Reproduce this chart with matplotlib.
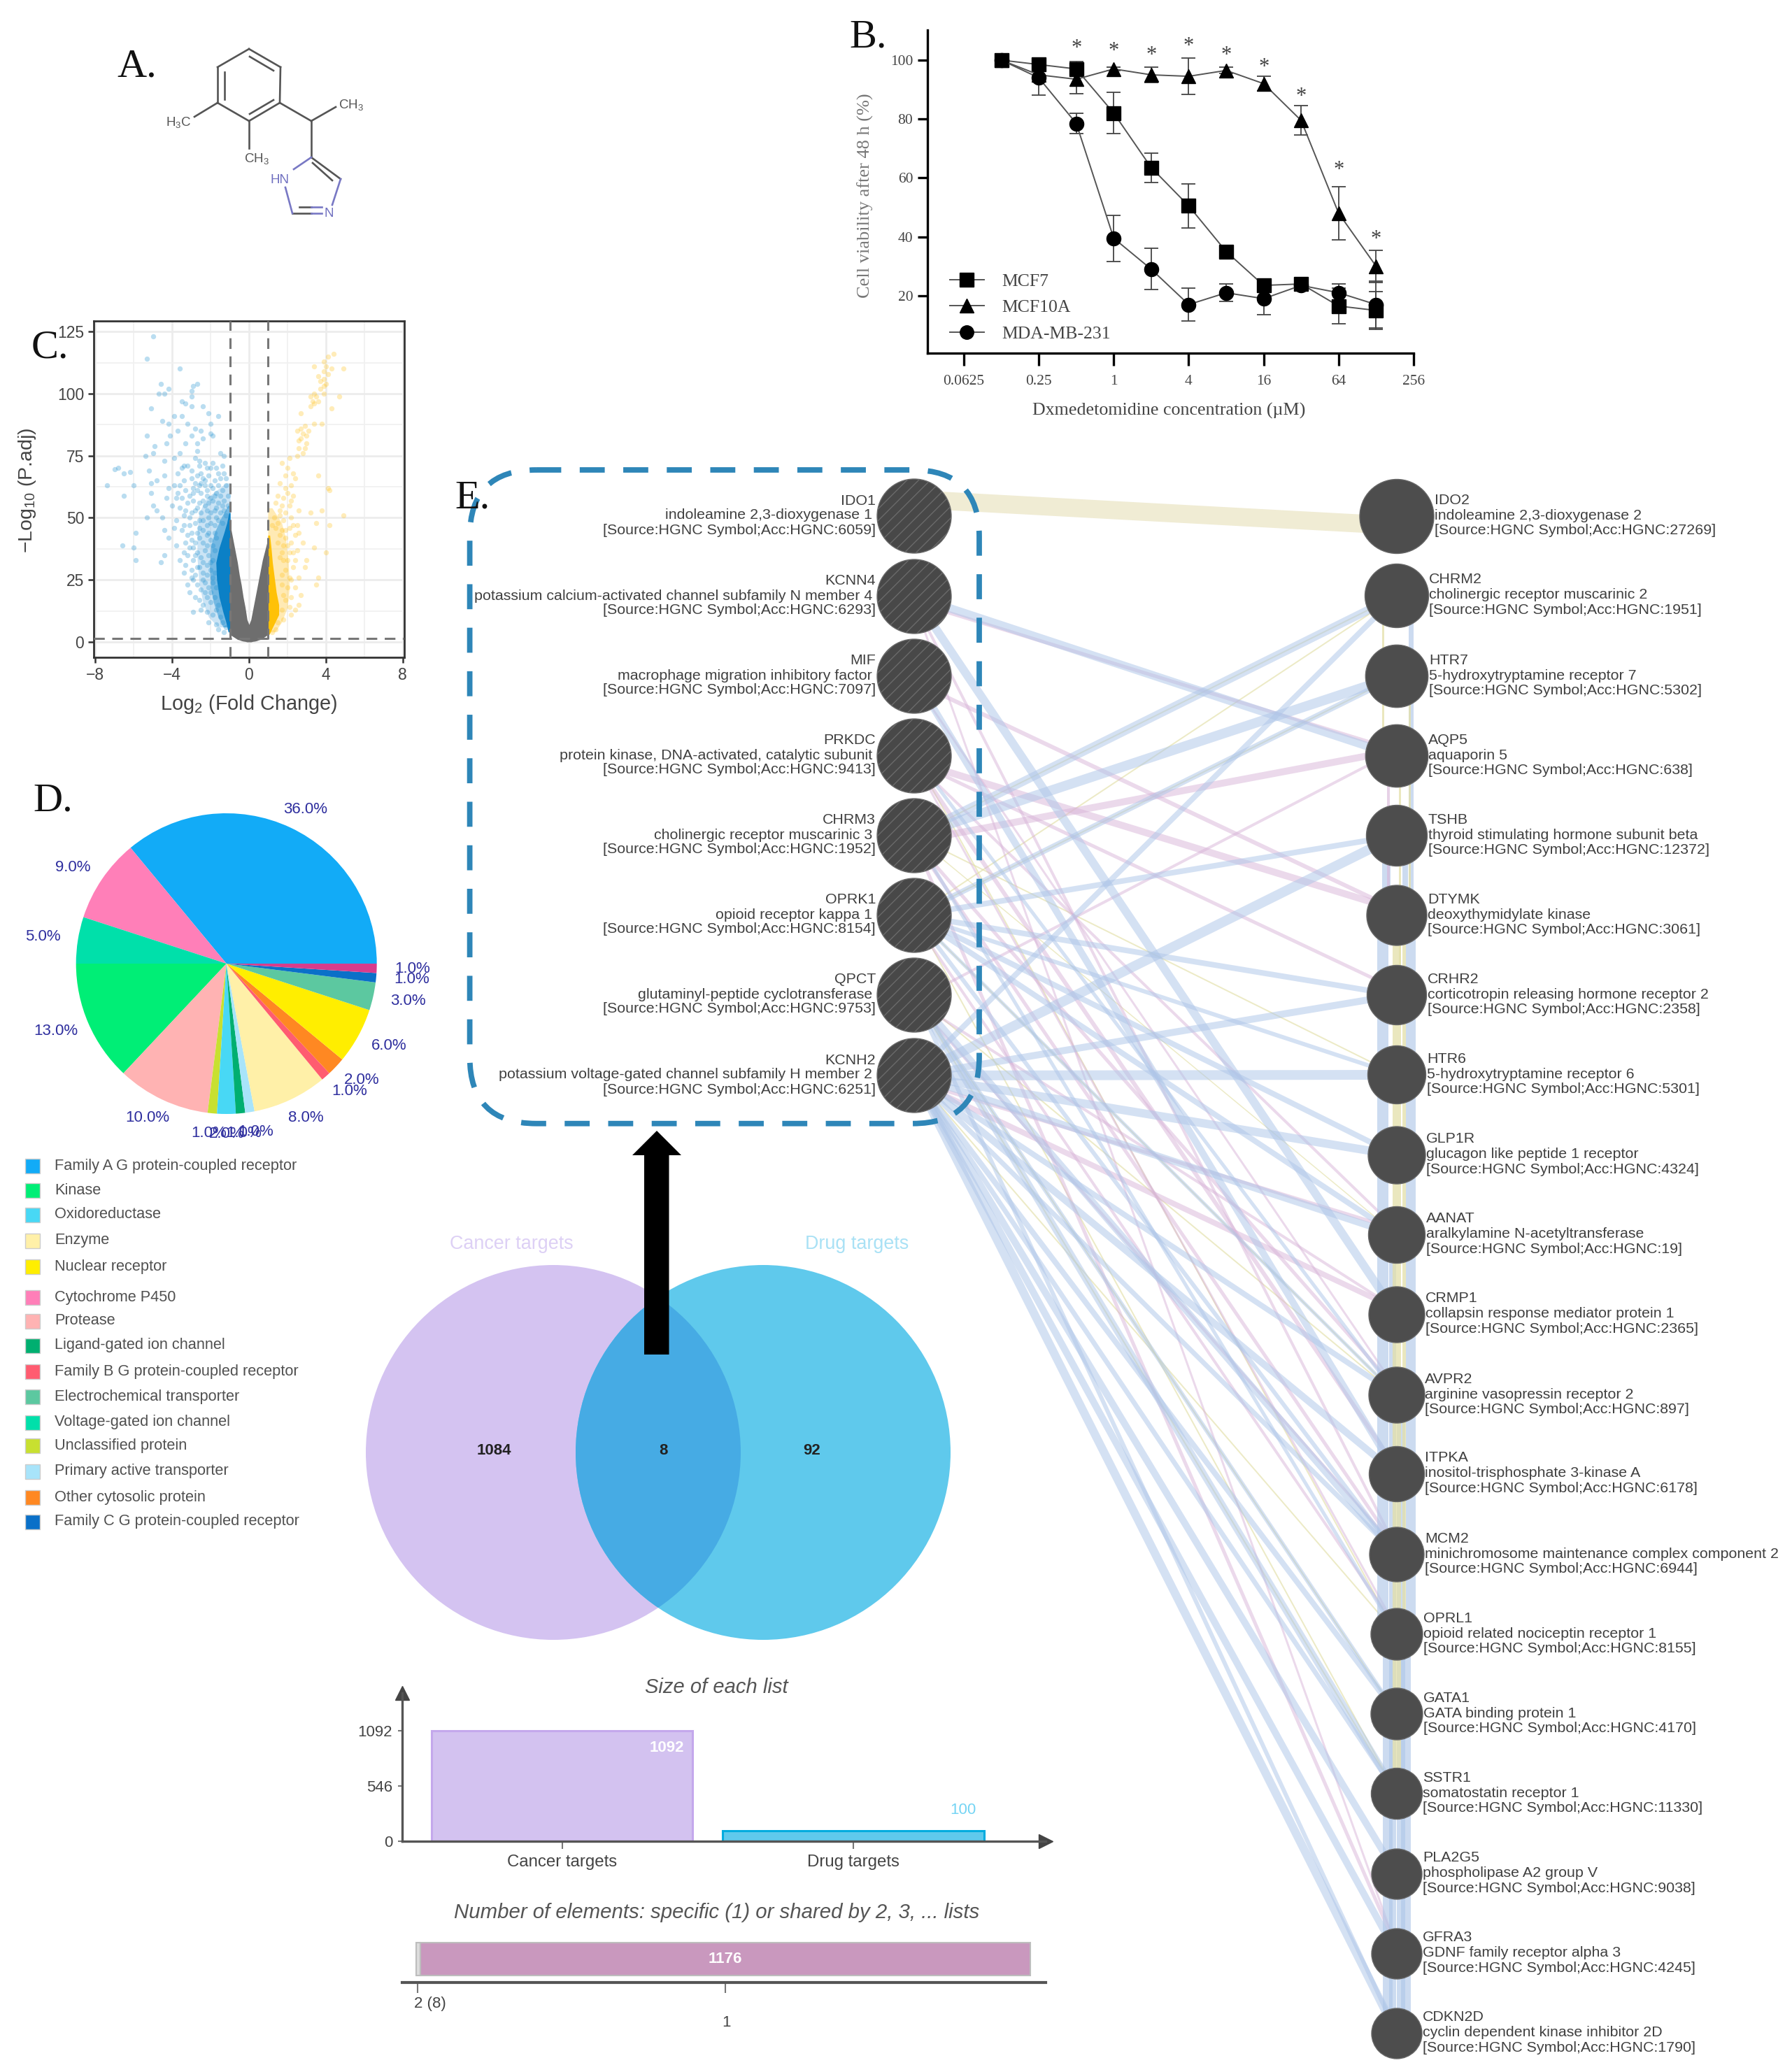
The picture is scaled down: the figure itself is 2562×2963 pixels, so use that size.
import matplotlib
matplotlib.use("Agg")
from matplotlib import pyplot as plt
from matplotlib.lines import Line2D
from matplotlib.patches import Circle, FancyBboxPatch, Polygon, Rectangle

plt.rcParams['font.family'] = ['Liberation Sans', 'DejaVu Sans']
plt.rcParams['mathtext.fontset'] = 'custom'
plt.rcParams['mathtext.rm'] = 'Liberation Sans'
plt.rcParams['mathtext.it'] = 'Liberation Sans:italic'

W, H = 2562, 2963
SERIF = ['Liberation Serif', 'DejaVu Serif']

# B. viability curves
conc = [0.125, 0.25, 0.5, 1, 2, 4, 8, 16, 32, 64, 128]
mcf7 = [100, 98.5, 97, 82, 63.5, 50.5, 35, 23.5, 24, 16.5, 15]
mcf7_err = [0.5, 2, 2.5, 7, 5, 7.5, 0.5, 1, 1, 6, 6.5]
mcf10a = [100, 95, 93.5, 97, 95, 94.5, 96.5, 92, 79.5, 48, 30]
mcf10a_err = [0.5, 1.5, 5, 0.5, 2.5, 6.2, 1, 2.5, 5, 9, 5.5]
mda = [100, 94, 78.5, 39.5, 29, 17, 21, 19, 23.5, 21, 17]
mda_err = [0.5, 6, 3.5, 7.8, 7, 5.5, 3, 5.5, 1, 3, 8]
star_conc = [0.5, 1, 2, 4, 8, 16, 32, 64, 128]
star_y = [104, 103, 101.6, 104.6, 101.6, 97.6, 87.6, 62.6, 39.2]

# C. volcano, solid cores read as envelopes
gray_x = [-1.0, -0.9, -0.8, -0.7, -0.6, -0.5, -0.4, -0.3, -0.2, -0.1, 0, 0.1, 0.2, 0.3, 0.4, 0.5, 0.6, 0.7, 0.8, 0.9, 1.0]
gray_low = [3, 2.5, 2, 1.5, 1, 0.8, 0.5, 0.3, 0.2, 0, 0, 0, 0.2, 0.3, 0.5, 0.8, 1, 1.5, 2, 2.5, 3]
gray_high = [48, 44, 40, 36, 32, 27, 23, 18, 14, 9, 7, 9, 13, 17, 21, 25, 29, 33, 36, 39, 42]
blue_core_y = [4, 8, 12, 18, 25, 32, 38, 44, 48, 52]
blue_core_x = [-1.08, -1.2, -1.35, -1.55, -1.68, -1.72, -1.55, -1.3, -1.15, -1.05]
blue_mid_y = [6, 10, 16, 22, 30, 38, 44, 50, 55]
blue_mid_x = [-1.35, -1.6, -1.85, -2.0, -2.05, -2.0, -1.8, -1.45, -1.1]
blue_pale_y = [6, 10, 16, 24, 34, 44, 52, 58, 64]
blue_pale_x = [-1.6, -2.1, -2.4, -2.6, -2.7, -2.7, -2.6, -2.2, -1.2]
yellow_core_y = [3, 7, 11, 15, 20, 26, 32, 38, 43]
yellow_core_x = [1.05, 1.3, 1.55, 1.55, 1.42, 1.32, 1.22, 1.15, 1.08]
yellow_pale_y = [4, 8, 14, 22, 32, 42, 48, 54]
yellow_pale_x = [1.35, 1.7, 2.0, 2.1, 2.05, 1.9, 1.7, 1.2]

volcano_down = [
    (-5.0, 123), (-5.3, 114), (-3.6, 110), (-4.6, 104), (-4.7, 100), (-4.4, 100), (-4.2, 102), (-3.0, 101), (-2.7, 104),
    (-2.9, 103), (-3.0, 99), (-3.5, 97), (-3.3, 96), (-3.0, 95), (-2.4, 95), (-5.1, 94), (-2.1, 92), (-1.6, 91),
    (-3.9, 91), (-3.5, 91), (-4.5, 89), (-4.2, 88), (-3.2, 88), (-2.0, 88), (-2.8, 86), (-2.5, 85), (-3.7, 85),
    (-2.0, 84), (-1.9, 83), (-5.3, 83), (-3.0, 83), (-4.1, 83), (-2.4, 82), (-3.3, 80), (-2.7, 80), (-4.3, 80),
    (-4.9, 79), (-5.0, 76), (-3.6, 76), (-2.7, 77), (-1.5, 76), (-1.3, 75), (-5.4, 75), (-3.9, 74), (-4.4, 73),
    (-2.8, 74), (-2.6, 73), (-2.3, 72), (-3.4, 71), (-3.2, 71), (-2.0, 70), (-1.7, 70), (-6.8, 70), (-7.0, 69.5),
    (-6.5, 68), (-6.2, 68.5), (-5.2, 69), (-4.4, 67), (-3.7, 68), (-2.5, 68), (-1.3, 68), (-7.4, 63), (-6.0, 63),
    (-5.1, 64), (-4.8, 65), (-4.2, 62), (-3.9, 63), (-3.4, 65), (-3.0, 66), (-2.8, 64), (-2.4, 66), (-2.1, 67),
    (-1.8, 65), (-1.5, 66), (-1.2, 63), (-6.5, 59), (-5.1, 60), (-4.3, 58), (-3.7, 60), (-3.3, 61), (-3.1, 59),
    (-2.7, 61), (-2.5, 60), (-2.3, 63), (-2.2, 59), (-1.9, 62), (-1.7, 60), (-1.4, 61), (-1.1, 59), (-5.0, 55),
    (-4.8, 53), (-4.5, 50), (-5.3, 50), (-4.0, 55), (-3.6, 54), (-3.2, 56), (-2.9, 57), (-2.6, 56), (-2.4, 57),
    (-2.1, 56), (-1.9, 57), (-1.6, 56), (-1.3, 57), (-1.1, 55), (-3.8, 49), (-3.4, 51), (-3.0, 52), (-2.8, 53),
    (-2.5, 52), (-2.2, 53), (-2.0, 52), (-1.8, 53), (-1.5, 52), (-1.3, 53), (-5.9, 44), (-4.4, 45), (-4.2, 42),
    (-3.9, 46), (-3.5, 45), (-3.1, 47), (-2.8, 48), (-2.6, 46), (-2.4, 49), (-2.2, 47), (-2.0, 48), (-1.8, 47),
    (-1.6, 49), (-1.4, 48), (-6.6, 39), (-6.0, 38), (-4.4, 35), (-3.8, 39), (-3.3, 40), (-3.0, 41), (-2.9, 38),
    (-2.6, 42), (-2.4, 40), (-2.2, 43), (-2.0, 41), (-1.9, 39), (-1.7, 42), (-5.9, 33), (-4.6, 32), (-3.6, 33),
    (-3.2, 35), (-2.9, 33), (-2.7, 36), (-2.5, 34), (-2.3, 37), (-2.1, 35), (-1.9, 33), (-3.4, 28), (-3.0, 29),
    (-2.8, 27), (-2.6, 30), (-2.4, 28), (-2.2, 31), (-2.0, 29), (-1.8, 28), (-3.2, 23), (-2.7, 23), (-2.5, 21),
    (-2.3, 24), (-2.1, 22), (-1.9, 24), (-1.7, 22), (-3.1, 20), (-2.6, 17), (-2.4, 15), (-2.2, 18), (-2.0, 16),
    (-1.8, 18), (-1.6, 15), (-2.9, 12), (-2.5, 13), (-2.2, 12), (-1.9, 11), (-1.7, 13), (-1.5, 10), (-2.1, 8),
    (-1.7, 7), (-1.4, 8), (-1.6, 5), (-1.3, 4), (-1.2, 6), (-2.6, 71), (-2.2, 70), (-2.7, 67), (-2.3, 65), (-2.0, 63),
    (-2.6, 63), (-1.6, 63), (-2.9, 60), (-2.0, 58), (-1.5, 59), (-2.7, 54), (-2.3, 55), (-1.7, 54), (-3.1, 50),
    (-2.6, 49), (-2.1, 50), (-1.7, 50), (-3.0, 44), (-2.7, 44), (-2.4, 45), (-2.1, 44), (-1.8, 44), (-2.8, 40),
    (-2.2, 39), (-1.8, 37), (-2.8, 35), (-2.4, 32), (-2.0, 32), (-2.7, 30), (-2.2, 27), (-1.9, 26), (-2.9, 25),
    (-2.4, 25), (-2.0, 20), (-2.8, 18), (-2.3, 20), (-3.0, 69), (-1.9, 72), (-1.4, 71), (-2.9, 62), (-3.5, 58),
    (-3.3, 53), (-3.4, 47), (-3.2, 43), (-3.1, 38), (-3.3, 31), (-3.0, 26), (-3.4, 36), (-2.5, 64), (-1.2, 66),
    (-1.6, 68), (-2.2, 61), (-1.8, 59), (-1.4, 55), (-1.2, 51), (-3.6, 63), (-3.5, 70), (-3.8, 58),
]
volcano_up = [
    (4.4, 116), (4.1, 115), (3.9, 113), (3.4, 111), (4.0, 111), (4.3, 110), (3.9, 109), (4.9, 110), (3.6, 107),
    (3.9, 106), (4.0, 104), (3.9, 103), (3.7, 102), (3.9, 100), (3.4, 100), (3.2, 99), (4.7, 99), (3.3, 97),
    (3.4, 96), (3.2, 95), (4.3, 94), (2.7, 92), (3.4, 88), (3.8, 88), (2.7, 86), (2.5, 85), (2.8, 84), (3.0, 83),
    (2.7, 82), (3.0, 80), (2.6, 78), (2.8, 76), (2.5, 75), (2.1, 74), (1.7, 72), (2.0, 70), (2.3, 68), (3.6, 67),
    (2.4, 66), (1.9, 67), (2.2, 63), (1.6, 64), (4.1, 62), (4.2, 61), (2.0, 60), (1.8, 58), (1.5, 59), (2.2, 57),
    (1.7, 55), (1.4, 56), (2.6, 53), (1.9, 52), (1.6, 51), (1.3, 50), (3.2, 52), (3.8, 53), (4.9, 51), (2.2, 50),
    (1.8, 49), (1.5, 48), (1.2, 47), (3.5, 48), (4.2, 47), (2.5, 47), (2.1, 46), (1.7, 45), (1.4, 46), (2.4, 43),
    (1.9, 42), (1.6, 43), (2.8, 40), (2.2, 40), (1.8, 39), (1.5, 40), (3.4, 38), (4.0, 36), (2.5, 37), (2.1, 36),
    (1.7, 36), (3.0, 33), (2.4, 33), (2.0, 33), (1.6, 34), (2.9, 30), (2.3, 30), (1.9, 29), (3.6, 26), (2.6, 26),
    (2.1, 26), (1.7, 27), (3.5, 23), (2.4, 22), (2.0, 22), (1.7, 23), (2.7, 19), (2.2, 18), (1.8, 19), (2.6, 15),
    (2.1, 14), (1.7, 13), (2.2, 11), (1.8, 9), (1.5, 8), (1.4, 5), (1.2, 4), (2.9, 87), (3.1, 85), (2.6, 81), (2.9, 78),
    (3.6, 97), (3.5, 99), (4.1, 108), (3.7, 105), (2.3, 59), (1.9, 62), (2.1, 55), (1.6, 53), (2.3, 47), (1.9, 45),
    (2.6, 44), (2.0, 39), (2.3, 36), (1.8, 33), (2.2, 25), (1.9, 17), (2.4, 13),
]

# D. pie
pie_values = [36, 9, 5, 13, 10, 1, 2, 1, 1, 8, 1, 2, 6, 3, 1, 1]
pie_colors = ['#12ABF7', '#FF7FB8', '#00E0AA', '#00EE76', '#FFB3B3', '#C8E030', '#48D8F5', '#00AF70',
              '#A8E4FA', '#FFF0A8', '#FF5C70', '#FF8822', '#FFEE00', '#5CC8A0', '#0A70C8', '#D83C8C']
legend_names = ['Family A G protein-coupled receptor', 'Kinase', 'Oxidoreductase', 'Enzyme', 'Nuclear receptor',
                'Cytochrome P450', 'Protease', 'Ligand-gated ion channel', 'Family B G protein-coupled receptor',
                'Electrochemical transporter', 'Voltage-gated ion channel', 'Unclassified protein',
                'Primary active transporter', 'Other cytosolic protein', 'Family C G protein-coupled receptor']
legend_colors = ['#12ABF7', '#00EE76', '#48D8F5', '#FFF0A8', '#FFEE00', '#FF7FB8', '#FFB3B3', '#00AF70',
                 '#FF5C70', '#5CC8A0', '#00E0AA', '#C8E030', '#A8E4FA', '#FF8822', '#0A70C8']
legend_rows = [1667, 1702, 1737, 1774, 1811, 1855, 1889, 1924, 1961, 1997, 2034, 2067, 2104, 2141, 2176]

# E. network
left_genes = ['IDO1', 'KCNN4', 'MIF', 'PRKDC', 'CHRM3', 'OPRK1', 'QPCT', 'KCNH2']
left_desc = ['indoleamine 2,3-dioxygenase 1', 'potassium calcium-activated channel subfamily N member 4',
             'macrophage migration inhibitory factor', 'protein kinase, DNA-activated, catalytic subunit',
             'cholinergic receptor muscarinic 3', 'opioid receptor kappa 1', 'glutaminyl-peptide cyclotransferase',
             'potassium voltage-gated channel subfamily H member 2']
left_acc = ['6059', '6293', '7097', '9413', '1952', '8154', '9753', '6251']
right_genes = ['IDO2', 'CHRM2', 'HTR7', 'AQP5', 'TSHB', 'DTYMK', 'CRHR2', 'HTR6', 'GLP1R', 'AANAT', 'CRMP1', 'AVPR2',
               'ITPKA', 'MCM2', 'OPRL1', 'GATA1', 'SSTR1', 'PLA2G5', 'GFRA3', 'CDKN2D']
right_desc = ['indoleamine 2,3-dioxygenase 2', 'cholinergic receptor muscarinic 2', '5-hydroxytryptamine receptor 7',
              'aquaporin 5', 'thyroid stimulating hormone subunit beta', 'deoxythymidylate kinase',
              'corticotropin releasing hormone receptor 2', '5-hydroxytryptamine receptor 6',
              'glucagon like peptide 1 receptor', 'aralkylamine N-acetyltransferase',
              'collapsin response mediator protein 1', 'arginine vasopressin receptor 2',
              'inositol-trisphosphate 3-kinase A', 'minichromosome maintenance complex component 2',
              'opioid related nociceptin receptor 1', 'GATA binding protein 1', 'somatostatin receptor 1',
              'phospholipase A2 group V', 'GDNF family receptor alpha 3', 'cyclin dependent kinase inhibitor 2D']
right_acc = ['27269', '1951', '5302', '638', '12372', '3061', '2358', '5301', '4324', '19', '2365', '897', '6178',
             '6944', '8155', '4170', '11330', '9038', '4245', '1790']
right_radius = [53, 45.5, 44.7, 44.7, 43.5, 43, 42.5, 41.5, 41, 40.5, 40, 40, 39.5, 39, 37, 37, 36.5, 36, 36, 36]
right_text_x = [2051, 2043, 2043, 2042, 2042, 2041, 2041, 2040, 2039, 2039, 2038, 2037, 2037, 2037, 2035, 2035,
                2034, 2034, 2034, 2034]
left_y = [738, 853, 967, 1081, 1195, 1309, 1423, 1538]
right_y = [738.5, 852, 967, 1081, 1195, 1309, 1423, 1537, 1652, 1766, 1880, 1995, 2108, 2223, 2337, 2451, 2565,
           2680, 2794, 2908]

# left node, right node, width in px
blue_edges = [(1, 3, 12), (4, 1, 12), (7, 1, 8), (4, 2, 14), (5, 2, 8), (5, 4, 8), (7, 4, 14), (5, 6, 8), (7, 6, 10),
              (7, 7, 14), (5, 7, 6), (7, 8, 12), (5, 8, 8), (7, 9, 10), (5, 9, 8), (1, 10, 12), (7, 11, 8), (7, 12, 10),
              (6, 13, 10), (7, 15, 8), (6, 16, 10), (7, 17, 10), (7, 18, 10), (7, 19, 12), (2, 12, 10), (6, 15, 6),
              (5, 13, 6), (4, 14, 5), (7, 13, 7), (7, 16, 7), (6, 19, 6), (5, 11, 5), (3, 11, 5)]
pink_edges = [(1, 3, 5), (4, 3, 10), (6, 3, 4), (3, 5, 10), (2, 5, 6), (3, 6, 5), (7, 9, 5), (7, 10, 8), (3, 12, 6),
              (1, 13, 4), (4, 18, 5), (1, 18, 3), (2, 11, 3), (3, 9, 4), (4, 11, 5), (6, 10, 4), (6, 13, 4), (4, 13, 5),
              (5, 14, 4), (3, 14, 3)]
yellow_edges = [(4, 1, 2), (5, 1, 2), (5, 2, 2), (4, 7, 2), (7, 14, 2), (5, 16, 2), (6, 16, 2), (3, 14, 2), (5, 11, 2),
                (6, 11, 2), (4, 9, 1.5), (6, 15, 2)]
# vertical band down the right column: first node, last node, x offset, width, colour name
band_edges = [(4, 5, -15, 12, 'blue'), (4, 5, 12, 8, 'blue'), (5, 14, -20, 16, 'blue'), (5, 14, 20, 14, 'blue'),
              (14, 19, -13, 14, 'blue'), (14, 19, 13, 14, 'blue'), (9, 19, -6, 10, 'blue'), (11, 19, 6, 12, 'blue'),
              (5, 16, 0, 12, 'yellow'), (5, 14, 10, 5, 'yellow'), (1, 5, 20, 7, 'blue'), (1, 3, -20, 3, 'yellow'),
              (2, 5, 18, 3, 'yellow'), (3, 5, -12, 4, 'pink'), (3, 6, 4, 3, 'yellow')]

# bars under the venn
list_names = ['Cancer targets', 'Drug targets']
list_sizes = [1092, 100]
list_colors = ['#D3C2F0', '#5FC9EC']
list_edges = ['#C4A8EC', '#00ACDF']
shared_sizes = [8, 1176]
venn_counts = [1084, 8, 92]

# molecule drawing, in pixels of the figure
mol_bonds = [((356, 70), (401, 96)), ((401, 96), (400, 147)), ((400, 147), (356, 173)), ((356, 173), (311, 147)),
             ((311, 147), (311, 96)), ((311, 96), (356, 70)), ((357, 81), (391, 101)), ((321, 103), (321, 142)),
             ((391, 143), (357, 163)), ((311, 147), (278, 167)), ((356, 173), (356, 212)), ((400, 147), (445, 173)),
             ((445, 173), (480, 153)), ((445, 173), (445, 225)), ((445, 225), (487, 256)), ((447, 233), (475, 258)),
             ((418, 305), (445, 305)), ((428, 296), (445, 296))]
mol_blue_bonds = [((445, 225), (420, 242)), ((408, 268), (418, 305)), ((487, 256), (475, 293)), ((445, 305), (460, 305)),
                  ((445, 296), (460, 296))]

fig = plt.figure(figsize=(W / 100, H / 100), dpi=100, facecolor='white')


def px_axes(left, top, right, bottom, **kw):
    return fig.add_axes([left / W, 1 - bottom / H, (right - left) / W, (bottom - top) / H], **kw)


# B
ax = px_axes(1326, 43, 2021, 505)
ax.set_xscale('log', base=2)
ax.set_xlim(2 ** -4.97, 2 ** 8)
ax.set_ylim(0.5, 110.2)
for vals, errs, mk, ms in [(mcf7, mcf7_err, 's', 14), (mcf10a, mcf10a_err, '^', 15), (mda, mda_err, 'o', 14.5)]:
    ax.errorbar(conc, vals, yerr=errs, fmt='-' + mk, color='#555555', mfc='black', mec='black', ms=ms, lw=1.4,
                ecolor='#444444', elinewidth=1.3, capsize=7, capthick=1.3)
for x, y in zip(star_conc, star_y):
    ax.text(x, y, '*', ha='center', va='center', fontsize=22, color='#444444', family=SERIF)
ax.spines['top'].set_visible(False)
ax.spines['right'].set_visible(False)
ax.spines['left'].set_linewidth(2.4)
ax.spines['bottom'].set_linewidth(2.4)
ax.set_xticks([0.0625, 0.25, 1, 4, 16, 64, 256])
ax.set_xticklabels(['0.0625', '0.25', '1', '4', '16', '64', '256'], family=SERIF, fontsize=15.5, color='#444444')
ax.minorticks_off()
ax.set_yticks([20, 40, 60, 80, 100])
ax.set_yticklabels(['20', '40', '60', '80', '100'], family=SERIF, fontsize=15.5, color='#444444')
ax.tick_params(axis='x', length=13, width=2.4, pad=9)
ax.tick_params(axis='y', length=10, width=2.4, pad=5)
handles = [Line2D([], [], color='#555555', marker=m, mfc='black', mec='black', ms=14, lw=1.4) for m in 's^o']
ax.legend(handles, ['MCF7', 'MCF10A', 'MDA-MB-231'], frameon=False, loc='lower left', bbox_to_anchor=(0.046, 0.035),
          prop={'family': SERIF, 'size': 18.5}, labelcolor='#444444', handlelength=1.9, handletextpad=1,
          labelspacing=0.56, borderpad=0, borderaxespad=0, numpoints=1)

# C
ax = px_axes(134, 458.6, 578, 940)
ax.set_xlim(-8.08, 8.08)
ax.set_ylim(-6.2, 129.4)
for x in [-8, -4, 0, 4, 8]:
    ax.axvline(x, color='#ececec', lw=2, zorder=0)
for x in [-6, -2, 2, 6]:
    ax.axvline(x, color='#f0f0f0', lw=1.2, zorder=0)
for y in [0, 25, 50, 75, 100, 125]:
    ax.axhline(y, color='#ececec', lw=2, zorder=0)
for y in [12.5, 37.5, 62.5, 87.5, 112.5]:
    ax.axhline(y, color='#f0f0f0', lw=1.2, zorder=0)
ax.fill_betweenx(blue_pale_y, blue_pale_x, -0.98, color='#7FBDE6', alpha=0.4, lw=0, zorder=1)
ax.fill_betweenx(blue_mid_y, blue_mid_x, -0.98, color='#3C9DD8', alpha=0.6, lw=0, zorder=1.2)
ax.fill_betweenx(blue_core_y, blue_core_x, -0.98, color='#0B80C6', lw=0, zorder=2)
ax.fill_betweenx(yellow_pale_y, yellow_pale_x, 0.98, color='#FFD76A', alpha=0.5, lw=0, zorder=1)
ax.fill_betweenx(yellow_core_y, yellow_core_x, 0.98, color='#FFC107', lw=0, zorder=2)
ax.scatter([p[0] for p in volcano_down], [p[1] for p in volcano_down], s=28, color='#1C8FD0', alpha=0.3, lw=0, zorder=3)
ax.scatter([p[0] for p in volcano_up], [p[1] for p in volcano_up], s=28, color='#FFC21A', alpha=0.3, lw=0, zorder=3)
ax.fill_between(gray_x, gray_low, gray_high, color='#6E6E6E', lw=0, zorder=4)
ax.axvline(-1, color='#777777', lw=2.2, dashes=(5, 3.5), zorder=5)
ax.axvline(1, color='#777777', lw=2.2, dashes=(5, 3.5), zorder=5)
ax.axhline(1.3, color='#777777', lw=2.2, dashes=(5, 3.5), zorder=5)
ax.set_xticks([-8, -4, 0, 4, 8])
ax.set_yticks([0, 25, 50, 75, 100, 125])
ax.tick_params(labelsize=16.5, labelcolor='#444444', length=6, width=1.8, color='#333333', pad=4)
for s in ax.spines.values():
    s.set_linewidth(2)
    s.set_color('#333333')

# D
ax = px_axes(323.7 - 320, 1378 - 320, 323.7 + 320, 1378 + 320)
wedges, texts, pcts = ax.pie(pie_values, colors=pie_colors, startangle=0, counterclock=True, radius=1, autopct='%.1f%%',
                             pctdistance=1.2, wedgeprops={'linewidth': 0}, textprops={'fontsize': 16, 'color': '#2E2E9E'})
# the labels sit on a slightly flattened ring in the original
for t in pcts:
    px, py = t.get_position()
    t.set_position((px * 1.03, py * 0.945))
ax.set_xlim(-320 / 215, 320 / 215)
ax.set_ylim(-320 / 215, 320 / 215)

# Size of each list
ax = px_axes(575, 2421, 1494.5, 2633)
ax.patch.set_alpha(0)
ax.set_xlim(-0.5486, 1.658)
ax.set_ylim(0, 1462)
ax.bar([0, 1], list_sizes, width=0.897, color=list_colors, edgecolor=list_edges, linewidth=2.2)
ax.spines['top'].set_visible(False)
ax.spines['right'].set_visible(False)
for s in ['left', 'bottom']:
    ax.spines[s].set_linewidth(2.4)
    ax.spines[s].set_color('#555555')
    ax.spines[s].set_zorder(5)
ax.plot(1, 0, '>', color='#444444', ms=14, transform=ax.transAxes, clip_on=False)
ax.plot(0, 1, '^', color='#444444', ms=14, transform=ax.transAxes, clip_on=False)
ax.set_xticks([0, 1])
ax.set_xticklabels(list_names, fontsize=17.3, color='#444444')
ax.set_yticks([0, 546, 1092])
ax.tick_params(axis='y', labelsize=16, labelcolor='#444444', length=4, width=1.5, color='#777777', pad=6)
ax.tick_params(axis='x', length=8, width=1.5, color='#777777', pad=6)
ax.text(0.36, 920, str(list_sizes[0]), color='white', fontsize=16, fontweight='bold', ha='center', va='center')
ax.text(1.376, 310, str(list_sizes[1]), color='#74D4F4', fontsize=16, ha='center', va='center')

# Number of elements
ax = px_axes(575, 2770, 1494.5, 2835)
ax.patch.set_alpha(0)
ax.set_xlim(-27, 1213)
ax.set_ylim(0, 65)
ax.barh([33.5, 33.5], shared_sizes, left=[0, shared_sizes[0]], height=47, color=['#DDDDDD', '#C998BE'],
        edgecolor='#BDBDBD', linewidth=1.5)
for s in ['top', 'left', 'right']:
    ax.spines[s].set_visible(False)
ax.spines['bottom'].set_linewidth(3)
ax.spines['bottom'].set_color('#555555')
ax.set_yticks([])
ax.set_xticks([2, 596])
ax.set_xticklabels(['', ''])
ax.tick_params(axis='x', length=11, width=1.5, color='#777777')
ax.text(596, 33.5, str(shared_sizes[1]), color='white', fontsize=16, fontweight='bold', ha='center', va='center')

# everything else is placed in figure pixels
ov = fig.add_axes([0, 0, 1, 1], zorder=-1)
ov.set_xlim(0, W)
ov.set_ylim(H, 0)
ov.axis('off')
top = fig.add_axes([0, 0, 1, 1], zorder=10)
top.set_xlim(0, W)
top.set_ylim(H, 0)
top.axis('off')
top.patch.set_alpha(0)

# network edges
edge_color = {'blue': ('#AEC6E8', 0.52), 'pink': ('#D8B4D8', 0.5), 'yellow': ('#E3E0A8', 0.65)}
LX, RX = 1307, 1997
ov.plot([LX, RX], [left_y[0] - 24, right_y[0] + 13], color='#F0ECD4', lw=26 * 0.72, solid_capstyle='butt', zorder=1)
for edges, key, dl, dr in [(yellow_edges, 'yellow', 0, 0), (pink_edges, 'pink', 8, -8), (blue_edges, 'blue', 0, 0)]:
    col, al = edge_color[key]
    for l, r, w in edges:
        ov.plot([LX, RX], [left_y[l] + dl, right_y[r] + dr], color=col, alpha=al, lw=w * 0.72,
                solid_capstyle='butt', zorder=1)
for a, b, dx, w, key in band_edges:
    col, al = edge_color[key]
    ov.plot([RX + dx, RX + dx], [right_y[a], right_y[b]], color=col, alpha=al + 0.1, lw=w * 0.72,
            solid_capstyle='butt', zorder=1)

for y in left_y:
    ov.add_patch(Circle((LX, y), 53, facecolor='#484848', edgecolor='#6A6A6A', hatch='//', lw=1, zorder=3))
for y, r in zip(right_y, right_radius):
    ov.add_patch(Circle((RX, y), r, facecolor='#4D4D4D', edgecolor='#666666', lw=1, zorder=3))

net_font = dict(fontsize=15.4, color='#404040', va='center')
for y, gene, desc, acc in zip(left_y, left_genes, left_desc, left_acc):
    top.text(1252, y - 22, gene, ha='right', **net_font)
    top.text(1247, y - 1, desc, ha='right', **net_font)
    top.text(1252, y + 20, '[Source:HGNC Symbol;Acc:HGNC:%s]' % acc, ha='right', **net_font)
for y, x, gene, desc, acc in zip(right_y, right_text_x, right_genes, right_desc, right_acc):
    top.text(x, y - 23, gene, ha='left', **net_font)
    top.text(x, y - 1, desc, ha='left', **net_font)
    top.text(x, y + 20.5, '[Source:HGNC Symbol;Acc:HGNC:%s]' % acc, ha='left', **net_font)

# dashed box round the shared targets
ov.add_patch(FancyBboxPatch((671.6 + 95, 672 + 95), 1400 - 671.6 - 190, 1606.7 - 672 - 190,
                            boxstyle='round,pad=95,rounding_size=95', fill=False, edgecolor='#2E86B8', lw=5.6,
                            linestyle=(0, (4.6, 3.4)), capstyle='butt', zorder=2))

# venn
left_circle = Circle((791, 2077), 268, facecolor='#D4C3F1', lw=0, zorder=2)
right_circle = Circle((1091, 2077), 268, facecolor='#5FC9EC', lw=0, zorder=2)
overlap = Circle((1091, 2077), 268, facecolor='#46ABE4', lw=0, zorder=2.1)
ov.add_patch(left_circle)
ov.add_patch(right_circle)
ov.add_patch(overlap)
overlap.set_clip_path(Circle((791, 2077), 268, transform=ov.transData))
top.text(731, 1779, list_names[0], fontsize=19.4, color='#DDD0F5', ha='center', va='center')
top.text(1225, 1779, list_names[1], fontsize=19.4, color='#A9E1F5', ha='center', va='center')
for x, n in zip([706.5, 948, 1161], venn_counts):
    top.text(x, 2075, str(n), fontsize=16, fontweight='bold', color='#222222', ha='center', va='center')
top.add_patch(Polygon([(921, 1937), (921, 1652), (904, 1652), (939, 1617), (974, 1652), (956.5, 1652), (956.5, 1937)],
                      facecolor='black', lw=0))

top.text(1024.6, 2413, 'Size of each list', fontsize=21, style='italic', color='#555555', ha='center', va='center')
top.text(1024.6, 2735, 'Number of elements: specific (1) or shared by 2, 3, ... lists', fontsize=21.2, style='italic',
         color='#555555', ha='center', va='center')
top.text(615, 2866, '2 (8)', fontsize=16, color='#444444', ha='center', va='center')
top.text(1038, 2893, '1', fontsize=16, color='#444444', ha='center', va='center')

# pie legend
for y, name, col in zip(legend_rows, legend_names, legend_colors):
    top.add_patch(Rectangle((36, y - 10.5), 21, 21, facecolor=col, edgecolor='#CCCCCC', lw=1))
    top.text(78, y, name, fontsize=15.7, color='#505050', va='center')

# molecule
for a, b in mol_bonds:
    top.plot([a[0], b[0]], [a[1], b[1]], color='#555555', lw=1.9)
for a, b in mol_blue_bonds:
    top.plot([a[0], b[0]], [a[1], b[1]], color='#7878C4', lw=1.9)
mol_font = dict(fontsize=13.5, color='#555555', ha='center', va='center')
top.text(255, 175, 'H$_3$C', **mol_font)
top.text(367, 227, 'CH$_3$', **mol_font)
top.text(502, 150, 'CH$_3$', **mol_font)
top.text(400, 257, 'HN', fontsize=13.5, color='#7070C0', ha='center', va='center')
top.text(470, 305, 'N', fontsize=13.5, color='#7070C0', ha='center', va='center')

# axis titles of the small panels
top.text(1237, 280, 'Cell viability after 48 h (%)', rotation=90, family=SERIF, fontsize=19, color='#777777',
         ha='center', va='center')
top.text(1671, 587, 'Dxmedetomidine concentration (\u00b5M)', family=SERIF, fontsize=18.7, color='#444444',
         ha='center', va='center')
top.text(356, 1007, 'Log$_2$ (Fold Change)', fontsize=20.8, color='#444444', ha='center', va='center')
top.text(39.5, 701, '\u2212Log$_{10}$ (P.adj)', rotation=90, fontsize=20.5, color='#444444', ha='center', va='center')

# panel letters
for x, y, letter in [(167, 110, 'A.'), (1214, 67, 'B.'), (45, 511, 'C.'), (47, 1160, 'D.'), (650, 726.5, 'E.')]:
    top.text(x, y, letter, family=SERIF, fontsize=42, color='#111111', ha='left', va='baseline')

fig.savefig('out.png', dpi=100)
